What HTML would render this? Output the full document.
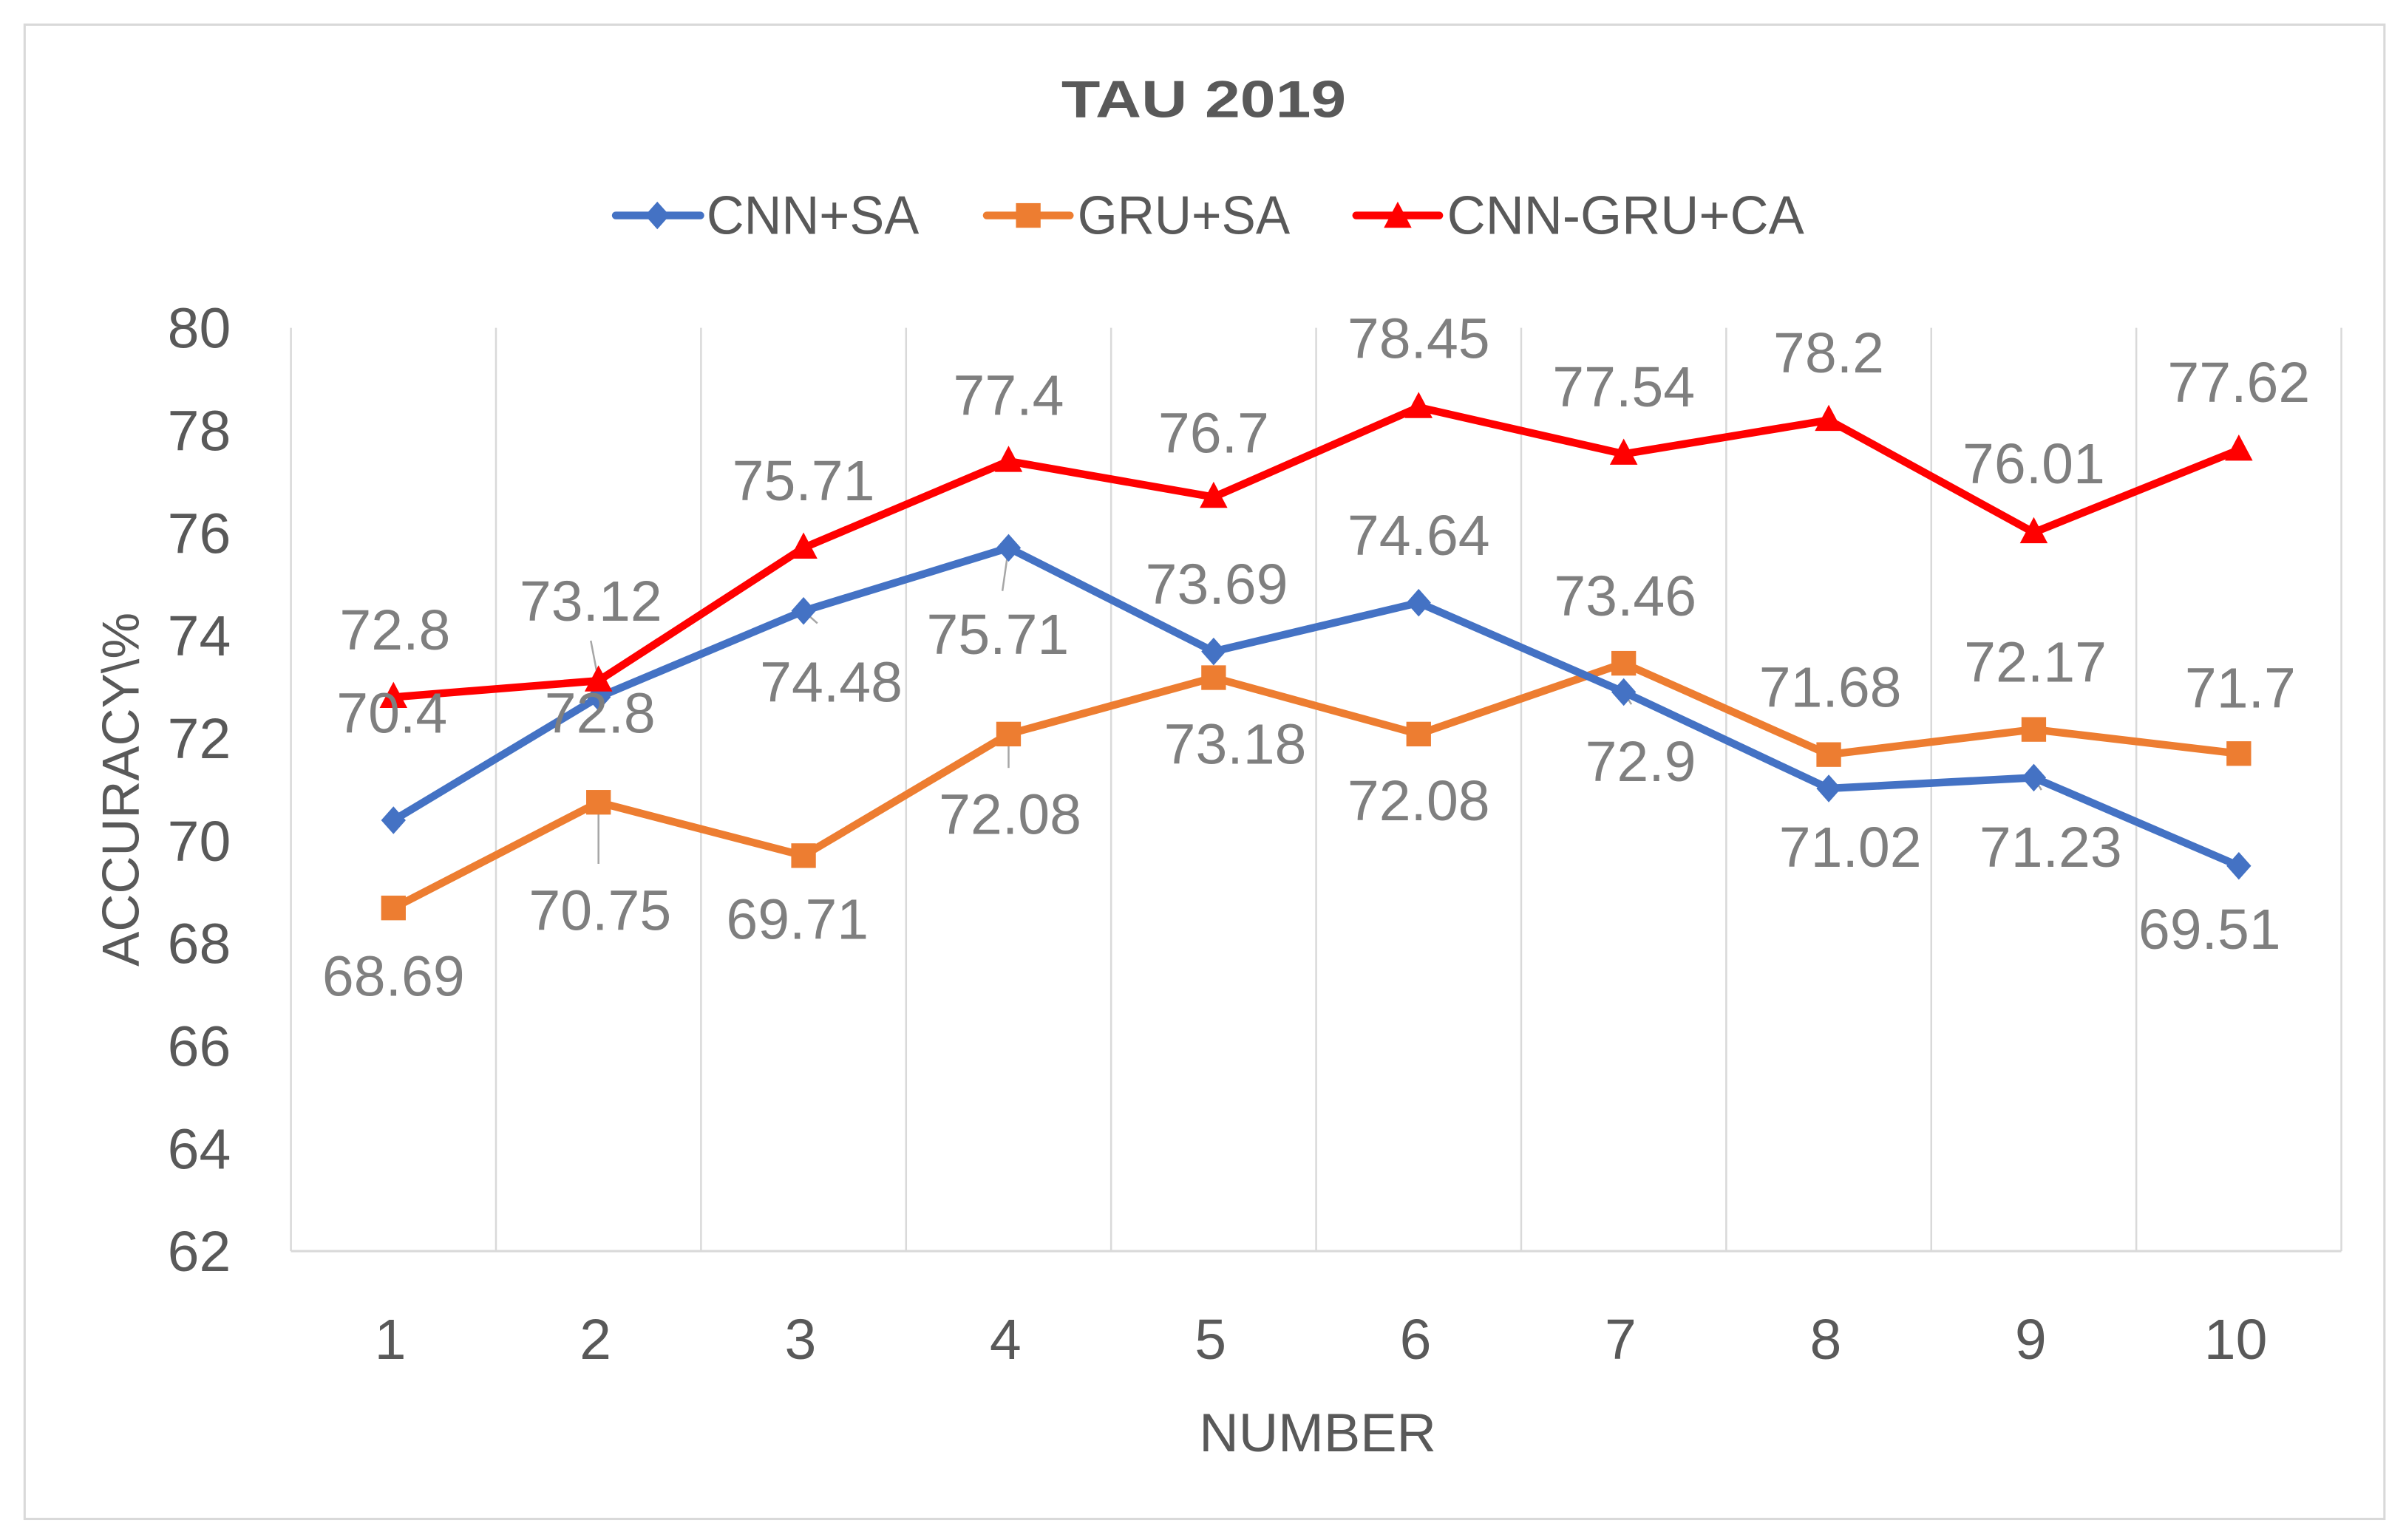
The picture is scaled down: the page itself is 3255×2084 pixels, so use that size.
<!DOCTYPE html>
<html><head><meta charset="utf-8"><style>html,body{margin:0;padding:0;background:#fff}svg{display:block}</style></head>
<body>
<svg id="chart" width="3255" height="2084" viewBox="0 0 1563 1000.7" preserveAspectRatio="none" xmlns="http://www.w3.org/2000/svg" font-family="Liberation Sans, sans-serif">
<rect x="16" y="16" width="1533" height="971" fill="#fff" stroke="#d9d9d9" stroke-width="1.5"/>
<text x="782" y="76" text-anchor="middle" font-size="34" font-weight="bold" fill="#595959" textLength="185" lengthAdjust="spacingAndGlyphs">TAU 2019</text>
<g>
 <g>
  <line x1="400" y1="140" x2="455" y2="140" stroke="#4472C4" stroke-width="5" stroke-linecap="round"/>
  <path d="M427,131 L435,140 L427,149 L419,140Z" fill="#4472C4"/>
  <text x="459" y="152" font-size="35" fill="#595959" textLength="138" lengthAdjust="spacingAndGlyphs">CNN+SA</text>
 </g>
 <g>
  <line x1="641" y1="140" x2="695" y2="140" stroke="#ED7D31" stroke-width="5" stroke-linecap="round"/>
  <rect x="660" y="132" width="16" height="16" fill="#ED7D31"/>
  <text x="700" y="152" font-size="35" fill="#595959" textLength="138" lengthAdjust="spacingAndGlyphs">GRU+SA</text>
 </g>
 <g>
  <line x1="881" y1="140" x2="935" y2="140" stroke="#FF0000" stroke-width="5" stroke-linecap="round"/>
  <path d="M908,131 L917,148 L899,148Z" fill="#FF0000"/>
  <text x="940" y="152" font-size="35" fill="#595959" textLength="232" lengthAdjust="spacingAndGlyphs">CNN-GRU+CA</text>
 </g>
</g>
<g id="grid"></g>
<g id="axes"></g>
<g id="leaders"></g>
<g id="series"></g>
<g id="labels"></g>
<text x="856" y="943" text-anchor="middle" font-size="35" fill="#595959" textLength="154" lengthAdjust="spacingAndGlyphs">NUMBER</text>
<text x="0" y="0" transform="translate(90,513) rotate(-90)" text-anchor="middle" font-size="34" fill="#595959" textLength="230" lengthAdjust="spacingAndGlyphs">ACCURACY\%</text>
</svg>
<script>
const categories = ["1","2","3","4","5","6","7","8","9","10"];
const cnnSA = [70.4,72.8,74.48,75.71,73.69,74.64,72.9,71.02,71.23,69.51];
const gruSA = [68.69,70.75,69.71,72.08,73.18,72.08,73.46,71.68,72.17,71.7];
const cnnGruCA = [72.8,73.12,75.71,77.4,76.7,78.45,77.54,78.2,76.01,77.62];
const yTicks = [62,64,66,68,70,72,74,76,78,80];
// label offsets (layout only)
const offCnn = [[-1,-70],[1,10],[18,46],[-7,56],[2,-44],[0,-44],[11,45],[14,38],[11,45],[-19,41]];
const offGru = [[0,44],[1,70],[-4,41],[1,52],[14,43],[0,43],[1,-44],[1,-44],[1,-44],[1,-43]];
const offRed = [[1,-44],[-5,-52],[0,-44],[0,-43],[0,-42],[0,-45],[0,-44],[0,-44],[0,-45],[0,-44]];

const NS="http://www.w3.org/2000/svg";
const L=189,R=1521,T=213,B=813,YMIN=62,YMAX=80;
const cw=(R-L)/categories.length;
const xs=i=>L+cw*(i+0.5);
const ys=v=>B-(v-YMIN)/(YMAX-YMIN)*(B-T);
function mk(tag,attrs,parent){const e=document.createElementNS(NS,tag);for(const k in attrs)e.setAttribute(k,attrs[k]);parent.appendChild(e);return e;}
const grid=document.getElementById('grid'),axes=document.getElementById('axes'),series=document.getElementById('series'),labels=document.getElementById('labels'),leaders=document.getElementById('leaders');
for(let i=0;i<=categories.length;i++){
  const g=mk('line',{x1:L+cw*i,x2:L+cw*i,y1:T,y2:B,stroke:'#d9d9d9','stroke-width':1.2},grid);
  
  
}
const ax=mk('line',{x1:L,x2:R,y1:B,y2:B,stroke:'#d9d9d9','stroke-width':1.5},axes);


yTicks.forEach(v=>{
  const t=mk('text',{x:150,y:ys(v)+13,'text-anchor':'end','font-size':37,fill:'#595959'},axes);
  t.textContent=v;
  
  
});
categories.forEach((c,i)=>{
  const t=mk('text',{x:xs(i)-2,y:883,'text-anchor':'middle','font-size':37,fill:'#595959'},axes);
  t.textContent=c;
  
  
});
function leader(x1,y1,x2,y2){
  const l=mk('line',{x1:x1,y1:y1,x2:x2,y2:y2,stroke:'#a6a6a6','stroke-width':1.2},leaders);
  
  
}
function drawSeries(vals,color,marker,name,offs){
  const pts=vals.map((v,i)=>xs(i)+','+ys(v)).join(' ');
  const pl=mk('polyline',{points:pts,fill:'none',stroke:color,'stroke-width':5,'stroke-linejoin':'round'},series);
  
  
  vals.forEach((v,i)=>{
    const x=xs(i),y=ys(v);let m;
    if(marker==='diamond')m=mk('path',{d:`M${x},${y-9} L${x+8},${y} L${x},${y+9} L${x-8},${y}Z`,fill:color},series);
    else if(marker==='square')m=mk('rect',{x:x-8,y:y-8,width:16,height:16,fill:color},series);
    else m=mk('path',{d:`M${x},${y-10} L${x+9},${y+7} L${x-9},${y+7}Z`,fill:color},series);
    
    
    const t=mk('text',{x:x+offs[i][0],y:y+offs[i][1]+13,'text-anchor':'middle','font-size':37,fill:'#7f7f7f'},labels);
    t.textContent=String(v);
    
    
  });
}
// leader lines for labels displaced from their points
leader(xs(1),ys(gruSA[1]),xs(1),ys(gruSA[1])+40);
leader(xs(3),ys(gruSA[3]),xs(3),ys(gruSA[3])+22);
leader(xs(1)-5,ys(cnnGruCA[1])-26,xs(1),ys(cnnGruCA[1]));
leader(xs(2),ys(cnnSA[2]),xs(2)+9,ys(cnnSA[2])+8);
leader(xs(3),ys(cnnSA[3]),xs(3)-4,ys(cnnSA[3])+28);
leader(xs(6),ys(cnnSA[6]),xs(6)+5,ys(cnnSA[6])+8);
leader(xs(8),ys(cnnSA[8]),xs(8)+5,ys(cnnSA[8])+8);
drawSeries(gruSA,'#ED7D31','square','gru-sa',offGru);
drawSeries(cnnSA,'#4472C4','diamond','cnn-sa',offCnn);
drawSeries(cnnGruCA,'#FF0000','triangle','cnn-gru-ca',offRed);
</script>
</body></html>
